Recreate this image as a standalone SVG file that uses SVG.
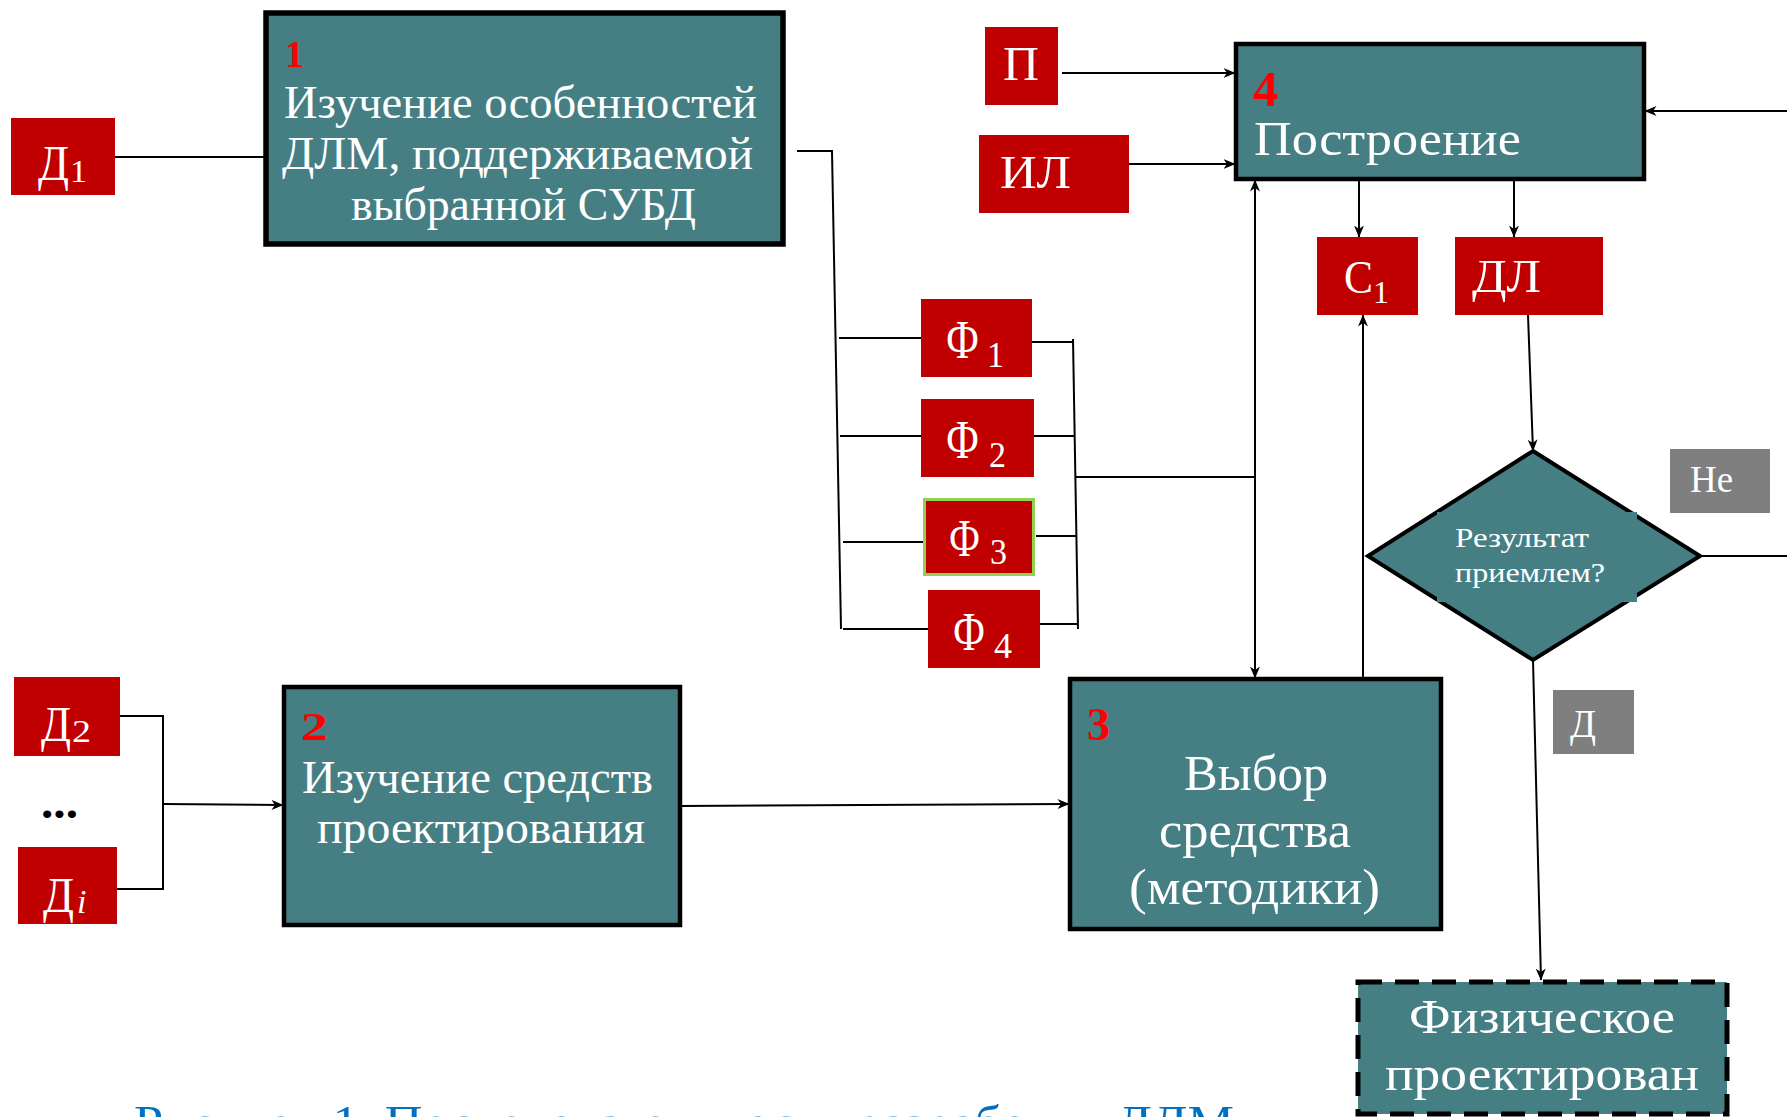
<svg xmlns="http://www.w3.org/2000/svg" width="1787" height="1117" viewBox="0 0 1787 1117">
  <style>
    .step { fill: #457f84; stroke: #000; stroke-width: 4.5; }
    .dashed { fill: #457f84; stroke: #000; stroke-width: 5; stroke-dasharray: 24 13; }
    .tag { fill: #c00000; }
    .grey { fill: #7f7f7f; }
    .w { fill: #fff; font-family: "Liberation Serif", "DejaVu Serif", serif; }
    .num { fill: #ff0000; font-family: "Liberation Serif", "DejaVu Serif", serif; font-weight: bold; }
    .wire { fill: none; stroke: #000; stroke-width: 2; }
    .arr { marker-end: url(#ah); }
    .cap { fill: #0070c0; font-family: "Liberation Serif", "DejaVu Serif", serif; }
  </style>
  <defs>
    <marker id="ah" viewBox="0 0 12 10" refX="11.5" refY="5" markerWidth="12" markerHeight="10" markerUnits="userSpaceOnUse" orient="auto-start-reverse">
      <path d="M0,0 L12,5 L0,10 L3.5,5 z" fill="#000"/>
    </marker>
  </defs>

  <rect width="1787" height="1117" fill="#fff"/>

  <!-- connectors -->
  <g id="connectors">
    <!-- inputs of step 1 and its outputs to the Ф bus -->
    <line class="wire" x1="115" y1="157" x2="264" y2="157"/>
    <polyline class="wire" points="797,151 832,151 841,629"/>
    <line class="wire" x1="839" y1="338" x2="921" y2="338"/>
    <line class="wire" x1="840" y1="436" x2="921" y2="436"/>
    <line class="wire" x1="843" y1="542" x2="923" y2="542"/>
    <line class="wire" x1="843" y1="629" x2="929" y2="629"/>
    <!-- Ф collector -->
    <line class="wire" x1="1032" y1="342" x2="1073" y2="342"/>
    <line class="wire" x1="1034" y1="436" x2="1075" y2="436"/>
    <line class="wire" x1="1036" y1="536" x2="1077" y2="536"/>
    <line class="wire" x1="1040" y1="624" x2="1078" y2="624"/>
    <line class="wire" x1="1073" y1="339" x2="1078" y2="629"/>
    <line class="wire" x1="1075" y1="477" x2="1255" y2="477"/>
    <line class="wire arr" x1="1255" y1="678" x2="1255" y2="180" style="marker-start:url(#ah)"/>
    <!-- inputs of step 2 -->
    <polyline class="wire" points="120,716 163,716 163,889 117,889"/>
    <line class="wire arr" x1="163" y1="804" x2="283" y2="805"/>
    <line class="wire arr" x1="680" y1="806" x2="1069" y2="804"/>
    <!-- inputs of step 4 -->
    <line class="wire arr" x1="1062" y1="73" x2="1235" y2="73"/>
    <line class="wire arr" x1="1129" y1="164" x2="1235" y2="164"/>
    <line class="wire arr" x1="1787" y1="111" x2="1645" y2="111"/>
    <!-- outputs of step 4 -->
    <line class="wire arr" x1="1359" y1="181" x2="1359" y2="237"/>
    <line class="wire arr" x1="1514" y1="181" x2="1514" y2="237"/>
    <line class="wire arr" x1="1363" y1="678" x2="1363" y2="315"/>
    <line class="wire arr" x1="1528" y1="315" x2="1533" y2="451"/>
    <!-- decision branches -->
    <line class="wire" x1="1700" y1="556" x2="1787" y2="556"/>
    <line class="wire arr" x1="1533" y1="660" x2="1541" y2="980"/>
  </g>

  <!-- step 1 -->
  <g id="step1">
    <rect class="step" x="266" y="13" width="517" height="231" style="stroke-width:5.5"/>
    <text class="num" x="285" y="67" font-size="38">1</text>
    <text class="w" x="284" y="118" font-size="46" textLength="473" lengthAdjust="spacingAndGlyphs">Изучение особенностей</text>
    <text class="w" x="282" y="169" font-size="46" textLength="471" lengthAdjust="spacingAndGlyphs">ДЛМ, поддерживаемой</text>
    <text class="w" x="351" y="220" font-size="46" textLength="345" lengthAdjust="spacingAndGlyphs">выбранной СУБД</text>
  </g>

  <!-- step 2 -->
  <g id="step2">
    <rect class="step" x="284" y="687" width="396" height="238"/>
    <text class="num" x="301" y="740" font-size="40" textLength="27" lengthAdjust="spacingAndGlyphs">2</text>
    <text class="w" x="302" y="793" font-size="46" textLength="351" lengthAdjust="spacingAndGlyphs">Изучение средств</text>
    <text class="w" x="317" y="843" font-size="46" textLength="328" lengthAdjust="spacingAndGlyphs">проектирования</text>
  </g>

  <!-- step 3 -->
  <g id="step3">
    <rect class="step" x="1070" y="679" width="371" height="250"/>
    <text class="num" x="1087" y="740" font-size="46">3</text>
    <text class="w" x="1184" y="790" font-size="50" textLength="144" lengthAdjust="spacingAndGlyphs">Выбор</text>
    <text class="w" x="1159" y="847" font-size="50" textLength="192" lengthAdjust="spacingAndGlyphs">средства</text>
    <text class="w" x="1129" y="904" font-size="50" textLength="251" lengthAdjust="spacingAndGlyphs">(методики)</text>
  </g>

  <!-- step 4 -->
  <g id="step4">
    <rect class="step" x="1236" y="44" width="408" height="135"/>
    <text class="num" x="1253" y="106" font-size="50">4</text>
    <text class="w" x="1254" y="155" font-size="48" textLength="267" lengthAdjust="spacingAndGlyphs">Построение</text>
  </g>

  <!-- decision -->
  <g id="decision">
    <polygon points="1533,451 1700,556 1533,660 1368,556" fill="#457f84" stroke="#000" stroke-width="4"/>
    <rect x="1437" y="512" width="200" height="90" fill="#457f84"/>
    <text class="w" x="1455" y="547" font-size="28" textLength="134" lengthAdjust="spacingAndGlyphs">Результат</text>
    <text class="w" x="1455" y="582" font-size="28" textLength="150" lengthAdjust="spacingAndGlyphs">приемлем?</text>
  </g>

  <!-- physical design -->
  <g id="physical">
    <rect class="dashed" x="1358" y="982" width="369" height="132"/>
    <text class="w" x="1409" y="1033" font-size="48" textLength="266" lengthAdjust="spacingAndGlyphs">Физическое</text>
    <text class="w" x="1385" y="1090" font-size="48" textLength="314" lengthAdjust="spacingAndGlyphs">проектирован</text>
  </g>

  <!-- data inputs -->
  <g id="d1">
    <rect class="tag" x="11" y="118" width="104" height="77"/>
    <text class="w" x="38" y="180" font-size="50" textLength="31" lengthAdjust="spacingAndGlyphs">Д</text>
    <text class="w" x="70" y="182" font-size="32" textLength="17" lengthAdjust="spacingAndGlyphs">1</text>
  </g>
  <g id="d2">
    <rect class="tag" x="14" y="677" width="106" height="79"/>
    <text class="w" x="41" y="741" font-size="50" textLength="30" lengthAdjust="spacingAndGlyphs">Д</text>
    <text class="w" x="72" y="742" font-size="32" textLength="19" lengthAdjust="spacingAndGlyphs">2</text>
  </g>
  <g id="dots">
    <text x="41" y="818" font-size="46" font-weight="bold" fill="#000" font-family="Liberation Serif, serif" textLength="37" lengthAdjust="spacingAndGlyphs">...</text>
  </g>
  <g id="di">
    <rect class="tag" x="18" y="847" width="99" height="77"/>
    <text class="w" x="43" y="912" font-size="50" textLength="31" lengthAdjust="spacingAndGlyphs">Д</text>
    <text class="w" x="77" y="913" font-size="34" font-style="italic">i</text>
  </g>

  <g id="p">
    <rect class="tag" x="985" y="27" width="73" height="78"/>
    <text class="w" x="1003" y="80" font-size="48" textLength="36" lengthAdjust="spacingAndGlyphs">П</text>
  </g>
  <g id="il">
    <rect class="tag" x="979" y="135" width="150" height="78"/>
    <text class="w" x="1000" y="188" font-size="46" textLength="71" lengthAdjust="spacingAndGlyphs">ИЛ</text>
  </g>
  <g id="c1">
    <rect class="tag" x="1317" y="237" width="101" height="78"/>
    <text class="w" x="1344" y="293" font-size="46" textLength="29" lengthAdjust="spacingAndGlyphs">C</text>
    <text class="w" x="1373" y="303" font-size="32" textLength="16" lengthAdjust="spacingAndGlyphs">1</text>
  </g>
  <g id="dl">
    <rect class="tag" x="1455" y="237" width="148" height="78"/>
    <text class="w" x="1472" y="292" font-size="46" textLength="69" lengthAdjust="spacingAndGlyphs">ДЛ</text>
  </g>

  <!-- Ф factors -->
  <g id="f1">
    <rect class="tag" x="921" y="299" width="111" height="78"/>
    <text class="w" x="946" y="358" font-size="54" textLength="33" lengthAdjust="spacingAndGlyphs">Ф</text>
    <text class="w" x="987" y="367" font-size="35" textLength="17" lengthAdjust="spacingAndGlyphs">1</text>
  </g>
  <g id="f2">
    <rect class="tag" x="921" y="399" width="113" height="78"/>
    <text class="w" x="946" y="458" font-size="54" textLength="33" lengthAdjust="spacingAndGlyphs">Ф</text>
    <text class="w" x="989" y="467" font-size="35" textLength="17" lengthAdjust="spacingAndGlyphs">2</text>
  </g>
  <g id="f3">
    <rect class="tag" x="924.5" y="499.5" width="109" height="75" stroke="#92d050" stroke-width="3"/>
    <text class="w" x="949" y="556" font-size="52" textLength="31" lengthAdjust="spacingAndGlyphs">Ф</text>
    <text class="w" x="990" y="564" font-size="35" textLength="17" lengthAdjust="spacingAndGlyphs">3</text>
  </g>
  <g id="f4">
    <rect class="tag" x="928" y="590" width="112" height="78"/>
    <text class="w" x="953" y="650" font-size="54" textLength="32" lengthAdjust="spacingAndGlyphs">Ф</text>
    <text class="w" x="994" y="658" font-size="35" textLength="18" lengthAdjust="spacingAndGlyphs">4</text>
  </g>

  <!-- decision answers -->
  <g id="no">
    <rect class="grey" x="1670" y="449" width="100" height="64"/>
    <text class="w" x="1690" y="492" font-size="37">Не</text>
  </g>
  <g id="yes">
    <rect class="grey" x="1553" y="690" width="81" height="64"/>
    <text class="w" x="1570" y="737" font-size="40" textLength="26" lengthAdjust="spacingAndGlyphs">Д</text>
  </g>

  <!-- figure caption -->
  <text class="cap" x="134" y="1138" font-size="46" textLength="1100" lengthAdjust="spacingAndGlyphs">Рисунок 1. Последовательность разработки ДЛМ</text>
</svg>
